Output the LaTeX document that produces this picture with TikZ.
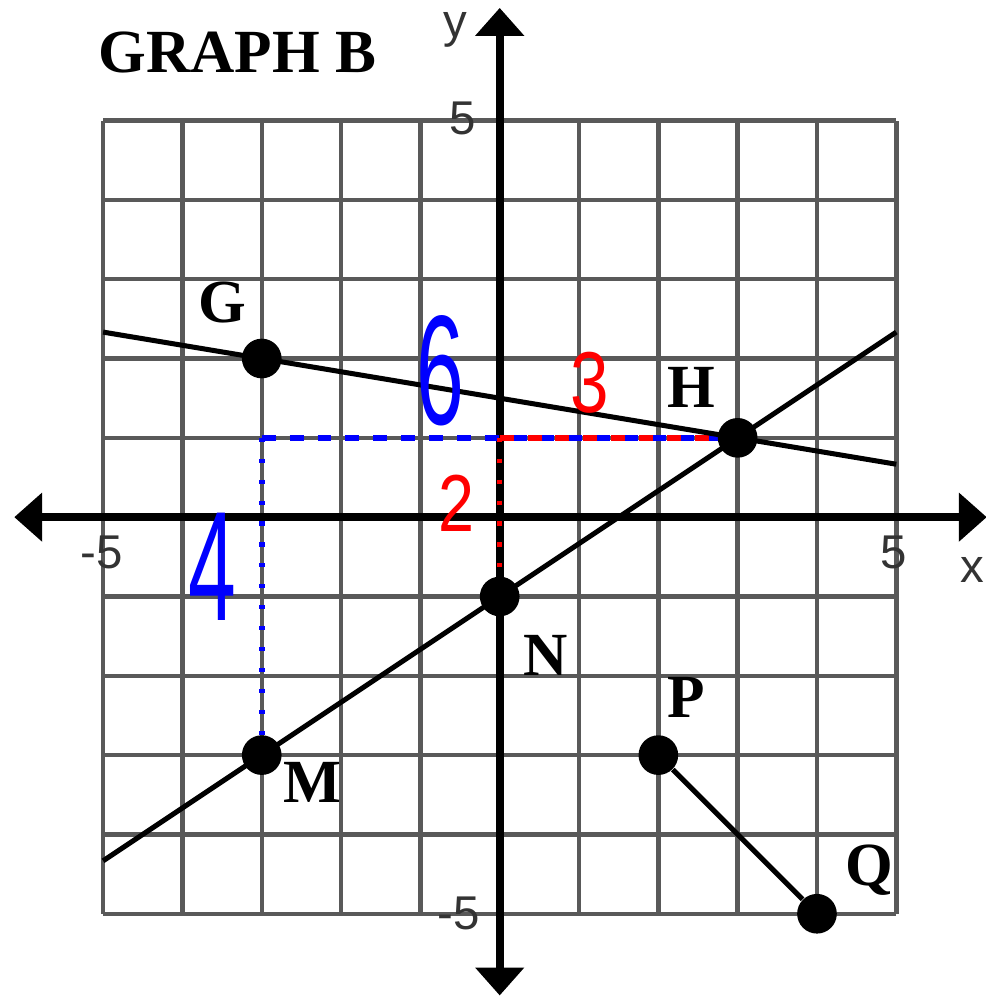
\documentclass[tikz,border=0pt]{standalone}
\usepackage{fontspec}
\setmainfont{Liberation Serif}
\setsansfont{Liberation Sans}
\usetikzlibrary{positioning,arrows.meta}

\begin{document}
\begin{tikzpicture}[
  gridline/.style={draw=black!65, line width=1.6pt},
  axis/.style={draw=black, line width=2.8pt,
               {Triangle[length=10pt,width=17pt]}-{Triangle[length=10pt,width=17pt]}},
  graph/.style={draw=black, line width=1.8pt},
  dot/.style={circle, fill=black, inner sep=0pt, minimum size=5mm},
  ptlab/.style={font=\fontsize{22}{24}\selectfont\bfseries, inner sep=0pt},
  tick/.style={font=\sffamily\fontsize{17}{19}\selectfont, text=black!80, inner sep=0pt},
  guide/.style={line width=2pt, dash pattern=on 5pt off 5pt},
  guidedot/.style={line width=2pt, dash pattern=on 1.5pt off 6pt},
  hand/.style={font=\sffamily\fontsize{56}{56}\selectfont, inner sep=0pt}
]
\useasboundingbox (-6.30,-6.10) rectangle (6.12,6.52);

% grid and axes
\draw[gridline] (-5,-5) grid (5,5);
\coordinate (xl) at (-6.12,0);
\coordinate (xr) at ( 6.14,0);
\coordinate (yb) at (0,-6.03);
\coordinate (yt) at (0, 6.42);
\draw[axis] (xl) -- (xr);
\draw[axis] (yb) -- (yt);

\node[tick] (xlab)  at ( 5.96,-0.67) {x};
\node[tick] (ylab)  at (-0.56, 6.14) {y};
\node[tick] (xmin)  at (-5.02,-0.45) {-5};
\node[tick] (xmax)  at ( 4.97,-0.45) {5};
\node[tick] (ymax)  at (-0.47, 5.03) {5};
\node[tick] (ymin)  at (-0.52,-5.00) {-5};

\node[font=\fontsize{22}{24}\selectfont\bfseries] (title) at (-3.31,5.86) {GRAPH B};

% guides
\coordinate (corner) at (-3,1);
\coordinate (top) at (0,1);
\coordinate (H0) at (3,1);
\coordinate (M0) at (-3,-3);
\coordinate (N0) at (0,-1);
\draw[guide, blue] (corner) -- (H0);
\draw[guidedot, blue] (corner) -- (M0);
\draw[guide, red] (top) -- (H0);
\draw[guidedot, red] (top) -- (N0);

% lines through the points
\coordinate (gh-l) at (-5,2.333);
\coordinate (gh-r) at ( 5,0.667);
\coordinate (mn-l) at (-5,-4.333);
\coordinate (mn-r) at ( 5,2.333);
\draw[graph] (gh-l) -- (gh-r);
\draw[graph] (mn-l) -- (mn-r);

\node[dot] (G) at (-3, 2) {};
\node[dot] (H) at ( 3, 1) {};
\node[dot] (N) at ( 0,-1) {};
\node[dot] (M) at (-3,-3) {};
\node[dot] (P) at ( 2,-3) {};
\node[dot] (Q) at ( 4,-5) {};
\draw[graph] (P) -- (Q);

\node[ptlab] (labG) at (-3.50, 2.71) {G};
\node[ptlab] (labH) at ( 2.41, 1.64) {H};
\node[ptlab] (labN) at ( 0.58,-1.74) {N};
\node[ptlab] (labM) at (-2.36,-3.35) {M};
\node[ptlab] (labP) at ( 2.35,-2.27) {P};
\node[ptlab] (labQ) at ( 4.66,-4.45) {Q};

% handwritten counts
\node[hand, text=blue] (six)  at (-0.745, 1.84) {\scalebox{0.55}[1]{6}};
\node[hand, text=red, font=\sffamily\fontsize{31}{31}\selectfont] (three) at (1.14, 1.69) {\scalebox{0.8}[1]{3}};
\node[hand, text=red, font=\sffamily\fontsize{29}{29}\selectfont] (two) at (-0.54, 0.18) {\scalebox{0.8}[1]{2}};
\node[hand, text=blue] (four) at (-3.62,-0.63) {\scalebox{0.55}[1]{4}};
\end{tikzpicture}
\end{document}
